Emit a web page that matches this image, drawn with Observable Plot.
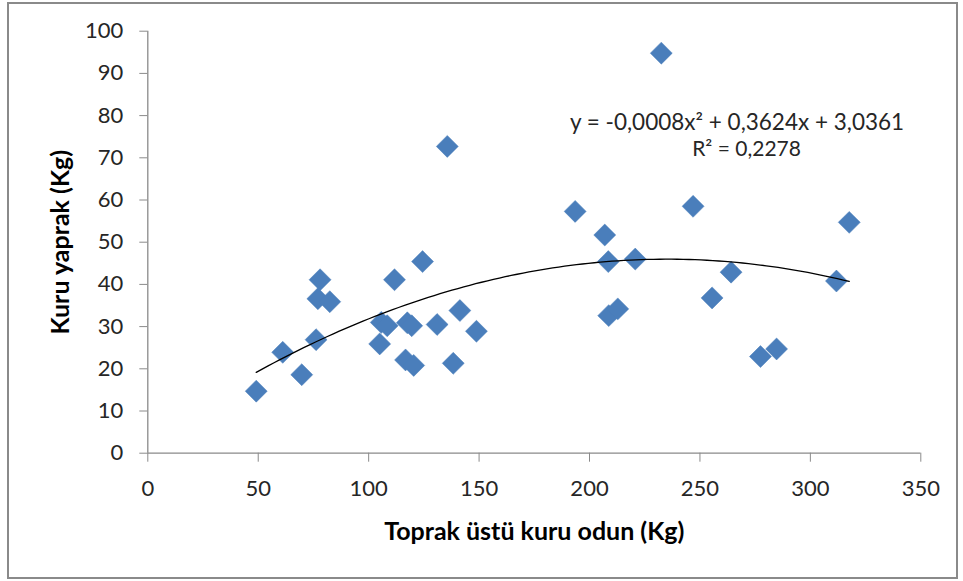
<!DOCTYPE html>
<html>
<head>
<meta charset="utf-8">
<script src="https://cdn.jsdelivr.net/npm/d3@7"></script>
<script src="https://cdn.jsdelivr.net/npm/@observablehq/plot@0.6"></script>
<style>
  html, body { margin: 0; padding: 0; background: #ffffff; }
  #wrap { position: relative; width: 963px; height: 581px; overflow: hidden; }
  #frame { position: absolute; left: 7px; top: 2px; width: 947px; height: 573px; border: 2px solid #8a8a8a; box-sizing: content-box; pointer-events: none; }
  #chart { position: absolute; left: 0; top: 0; }
</style>
</head>
<body>
<div id="wrap"><div id="chart"></div><div id="frame"></div></div>
<script>
// Toprak üstü kuru odun (Kg)
const xValues = [49.1, 61.1, 69.7, 76.2, 77.0, 78.0, 82.4, 105.0, 105.7, 108.4, 111.7, 116.7, 117.5, 119.5, 120.4, 124.4, 131.0, 135.6, 138.3, 141.3, 148.8,
                 193.5, 206.9, 208.5, 208.7, 212.8, 220.7, 232.5, 246.9, 255.5, 264.1, 277.4, 284.7, 311.8, 317.6];
// Kuru yaprak (Kg)
const yValues = [14.7, 23.9, 18.6, 26.9, 36.6, 41.1, 35.9, 25.9, 31.0, 30.2, 41.1, 22.1, 30.9, 30.2, 20.8, 45.4, 30.5, 72.7, 21.3, 33.8, 28.9,
                 57.3, 51.7, 45.4, 32.6, 34.2, 46.0, 94.8, 58.5, 36.8, 42.9, 22.9, 24.7, 40.8, 54.7];
const xTicks = [0, 50, 100, 150, 200, 250, 300, 350];
const yTicks = [0, 10, 20, 30, 40, 50, 60, 70, 80, 90, 100];
const eqLine1 = "y = -0,0008x² + 0,3624x + 3,0361";
const eqLine2 = "R² = 0,2278";
const xTitle = "Toprak üstü kuru odun (Kg)";
const yTitle = "Kuru yaprak (Kg)";

const data = xValues.map((x, i) => ({x, y: yValues[i]}));

// Polynomial (order 2) least-squares trendline fitted to the points
function quadFit(pts) {
  let s = [0,0,0,0,0], t = [0,0,0];
  for (const {x, y} of pts) {
    let p = 1;
    for (let k = 0; k < 5; k++) { s[k] += p; if (k < 3) t[k] += p * y; p *= x; }
  }
  const A = [[s[0], s[1], s[2], t[0]], [s[1], s[2], s[3], t[1]], [s[2], s[3], s[4], t[2]]];
  for (let i = 0; i < 3; i++) {
    for (let j = i + 1; j < 3; j++) {
      const f = A[j][i] / A[i][i];
      for (let k = i; k < 4; k++) A[j][k] -= f * A[i][k];
    }
  }
  const c = [0,0,0];
  for (let i = 2; i >= 0; i--) {
    let v = A[i][3];
    for (let k = i + 1; k < 3; k++) v -= A[i][k] * c[k];
    c[i] = v / A[i][i];
  }
  return c; // c0 + c1 x + c2 x^2
}
const coef = quadFit(data);
const [xmin, xmax] = d3.extent(xValues);
const trend = d3.range(0, 101).map(i => {
  const x = xmin + (xmax - xmin) * i / 100;
  return {x, y: coef[0] + coef[1] * x + coef[2] * x * x};
});

const chart = Plot.plot({
  width: 963,
  height: 581,
  marginLeft: 147.3,
  marginRight: 42.7,
  marginTop: 30.7,
  marginBottom: 128.3,
  style: {fontFamily: "Lato, 'Open Sans', sans-serif", fontSize: "22px", background: "transparent", color: "#262626"},
  x: {domain: [0, 350]},
  y: {domain: [0, 100]},
  marks: [
    Plot.axisX({ticks: xTicks, tickSize: 9, tickPadding: 18, stroke: "#8a8a8a", fill: "#262626", fontSize: 22, label: null, tickFormat: d => String(d)}),
    Plot.axisY({ticks: yTicks, tickSize: 8, tickPadding: 16.5, stroke: "#8a8a8a", fill: "#262626", fontSize: 22, label: null, tickFormat: d => String(d)}),
    Plot.ruleY([0], {stroke: "#8a8a8a", strokeWidth: 1.3}),
    Plot.ruleX([0], {stroke: "#8a8a8a", strokeWidth: 1.3}),
    Plot.dot(data, {x: "x", y: "y", symbol: "diamond2", r: 9.9, fill: "#4a7ebb", stroke: "#4a7ebb", strokeWidth: 0.5}),
    Plot.line(trend, {x: "x", y: "y", stroke: "#000000", strokeWidth: 1.3, curve: "linear"}),
    Plot.text([eqLine1], {x: 266.8, y: 78.4, text: d => d, fontSize: 22.5, fill: "#262626", textAnchor: "middle", lineAnchor: "middle"}),
    Plot.text([eqLine2], {x: 271.1, y: 72.1, text: d => d, fontSize: 21, fill: "#262626", textAnchor: "middle", lineAnchor: "middle"}),
    Plot.text([xTitle], {frameAnchor: "bottom", dy: 78.3, text: d => d, fontSize: 25, fontWeight: "bold", fill: "#000000", textAnchor: "middle", lineAnchor: "middle"}),
    Plot.text([yTitle], {frameAnchor: "left", dx: -87.3, rotate: -90, text: d => d, fontSize: 25, fontWeight: "bold", fill: "#000000", textAnchor: "middle", lineAnchor: "middle"})
  ]
});
document.getElementById("chart").appendChild(chart);
</script>
</body>
</html>
